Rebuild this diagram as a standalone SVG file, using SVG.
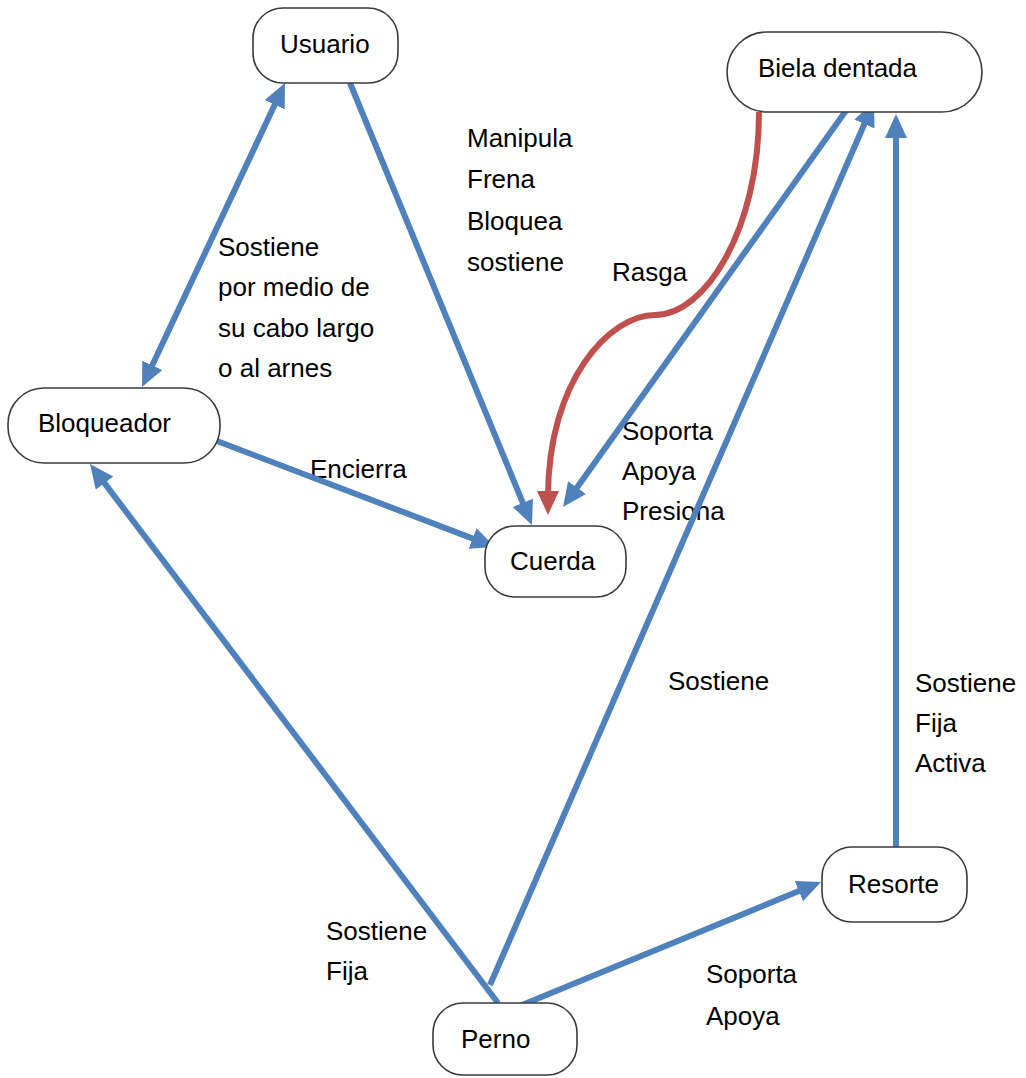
<svg xmlns="http://www.w3.org/2000/svg" width="1026" height="1078" viewBox="0 0 1026 1078">
<style>
  .lbl { font-family: "Liberation Sans", Arial, sans-serif; font-size: 26px; fill: #000; }
  .node rect { fill: #fff; stroke: #3a3a3a; stroke-width: 1.6; }
  .blue { fill: none; stroke: #4F81BD; stroke-width: 6; }
  .red { fill: none; stroke: #C0504D; stroke-width: 6; }
</style>
<defs>
  <marker id="ab" markerUnits="userSpaceOnUse" markerWidth="26" markerHeight="24" refX="6" refY="11" orient="auto-start-reverse">
    <path d="M0,0 L24,11 L0,22 z" fill="#4F81BD"/>
  </marker>
  <marker id="ar" markerUnits="userSpaceOnUse" markerWidth="26" markerHeight="24" refX="6" refY="11" orient="auto">
    <path d="M0,0 L24,11 L0,22 z" fill="#C0504D"/>
  </marker>
</defs>
<rect width="1026" height="1078" fill="#fff"/>

<g id="labels" class="lbl">
  <text x="218" y="256">Sostiene</text>
  <text x="218" y="296">por medio de</text>
  <text x="218" y="337">su cabo largo</text>
  <text x="218" y="377">o al arnes</text>
  <text x="467" y="147">Manipula</text>
  <text x="467" y="188">Frena</text>
  <text x="467" y="230">Bloquea</text>
  <text x="467" y="271">sostiene</text>
  <text x="612" y="281">Rasga</text>
  <text x="622" y="440">Soporta</text>
  <text x="622" y="480">Apoya</text>
  <text x="622" y="520">Presiona</text>
  <text x="310" y="478">Encierra</text>
  <text x="668" y="690">Sostiene</text>
  <text x="915" y="692">Sostiene</text>
  <text x="915" y="732">Fija</text>
  <text x="915" y="772">Activa</text>
  <text x="326" y="940">Sostiene</text>
  <text x="326" y="980">Fija</text>
  <text x="706" y="983">Soporta</text>
  <text x="706" y="1025">Apoya</text>
</g>

<g id="connectors">
  <path class="blue" d="M149.7,370.7 L277.3,99.3" marker-start="url(#ab)" marker-end="url(#ab)"/>
  <path class="blue" d="M350,83 L525.1,508.4" marker-end="url(#ab)"/>
  <path class="red" d="M759,112 C759,230 705,315 655,315 C610,315 548,380 548,497" marker-end="url(#ar)"/>
  <path class="blue" d="M850,105 L573.5,492.4" marker-end="url(#ab)"/>
  <path class="blue" d="M490,985 L866.8,118.5" marker-end="url(#ab)"/>
  <path class="blue" d="M896,847 L896,132" marker-end="url(#ab)"/>
  <path class="blue" d="M498,1003 L100.9,478.4" marker-end="url(#ab)"/>
  <path class="blue" d="M522,1005 L804.4,888.8" marker-end="url(#ab)"/>
  <path class="blue" d="M209,438 L478.2,540.6" marker-end="url(#ab)"/>
</g>

<g id="node-usuario" class="node">
  <rect x="253" y="8" width="145" height="75" rx="30" ry="30"/>
  <text class="lbl" x="280" y="53">Usuario</text>
</g>
<g id="node-bloqueador" class="node">
  <rect x="8" y="388" width="212" height="75" rx="36" ry="36"/>
  <text class="lbl" x="38" y="432">Bloqueador</text>
</g>
<g id="node-biela" class="node">
  <rect x="727" y="32" width="255" height="80" rx="40" ry="40"/>
  <text class="lbl" x="758" y="77">Biela dentada</text>
</g>
<g id="node-cuerda" class="node">
  <rect x="485" y="526" width="141" height="71" rx="30" ry="30"/>
  <text class="lbl" x="510" y="570">Cuerda</text>
</g>
<g id="node-resorte" class="node">
  <rect x="822" y="847" width="145" height="75" rx="30" ry="30"/>
  <text class="lbl" x="848" y="893">Resorte</text>
</g>
<g id="node-perno" class="node">
  <rect x="433" y="1003" width="144" height="72" rx="30" ry="30"/>
  <text class="lbl" x="461" y="1048">Perno</text>
</g>
</svg>
